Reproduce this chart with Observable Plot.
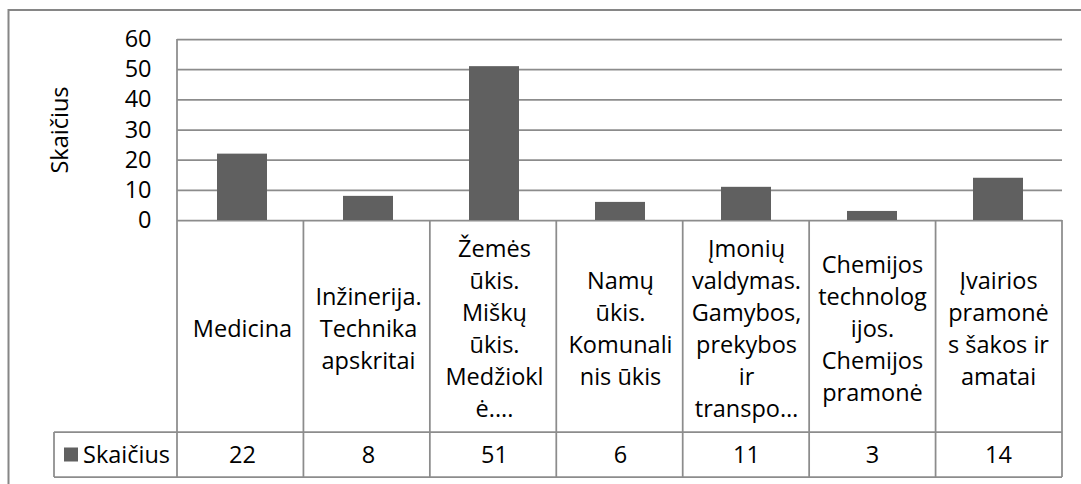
<!DOCTYPE html>
<html>
<head>
<meta charset="utf-8">
<script src="https://cdn.jsdelivr.net/npm/d3@7"></script>
<script src="https://cdn.jsdelivr.net/npm/@observablehq/plot@0.6"></script>
<style>
  html, body { margin: 0; padding: 0; background: #fff; }
  svg { display: block; }
</style>
</head>
<body>
<div id="chart"></div>
<script>
// ---- data ----
const categoryLabels = [
  "Medicina",
  "Inžinerija.\nTechnika\napskritai",
  "Žemės\nūkis.\nMiškų\nūkis.\nMedžiokl\nė....",
  "Namų\nūkis.\nKomunali\nnis ūkis",
  "Įmonių\nvaldymas.\nGamybos,\nprekybos\nir\ntranspo…",
  "Chemijos\ntechnolog\nijos.\nChemijos\npramonė",
  "Įvairios\npramonė\ns šakos ir\namatai"
];
const values = [22, 8, 51, 6, 11, 3, 14];
const seriesName = "Skaičius";
const axisTitle = "Skaičius";
const yTicks = [0, 10, 20, 30, 40, 50, 60];

const data = categoryLabels.map((c, i) => ({category: c, value: values[i]}));

// ---- layout ----
const W = 1081, H = 484;
const mL = 177, mR = 19, mT = 39, mB = 264;
const zeroY = H - mB;        // 220
const rowSplitY = 432;       // between label row and value row
const tableBottom = 477;
const legendLeft = 54;
const FONT = "'Open Sans', Lato, sans-serif";
const FS = 23.5;
const gridColor = "#8c8c8c";
const barColor = "#606060";

const chart = Plot.plot({
  width: W,
  height: H,
  marginLeft: mL,
  marginRight: mR,
  marginTop: mT,
  marginBottom: mB,
  style: {fontFamily: FONT, fontSize: FS + "px", color: "#000", background: "#fff", overflow: "visible"},
  x: {domain: categoryLabels, paddingInner: 0.605, paddingOuter: 0.3025, axis: null},
  y: {domain: [0, 60], axis: null},
  marks: [
    Plot.gridY(yTicks, {stroke: gridColor, strokeOpacity: 1, strokeWidth: 1.75}),
    Plot.barY(data, {x: "category", y: "value", fill: barColor}),
    Plot.axisY(yTicks, {tickSize: 0, tickPadding: 26, fontSize: FS, label: null, fill: "#000"}),
    Plot.text([axisTitle], {frameAnchor: "left", textAnchor: "middle", lineAnchor: "middle",
      dx: -117, rotate: -90, fontSize: FS, fill: "#000"}),
    Plot.text(data, {x: "category", text: "category", frameAnchor: "bottom",
      dy: (rowSplitY - zeroY) / 2, lineAnchor: "middle", lineHeight: 1.36, fontSize: FS, fill: "#000"}),
    Plot.text(data, {x: "category", text: d => String(d.value), frameAnchor: "bottom",
      dy: (rowSplitY + tableBottom) / 2 - zeroY, lineAnchor: "middle", fontSize: FS, fill: "#000"})
  ]
});

document.getElementById("chart").appendChild(chart);

// ---- data table grid & legend (decoration aligned to Plot's x scale) ----
const svg = d3.select(chart);
const xs = chart.scale("x");
const r0 = xs.range[0], r1 = xs.range[1];
const n = categoryLabels.length;
const step = (r1 - r0) / n;
const bounds = d3.range(n + 1).map(i => r0 + i * step);

const g = svg.append("g").attr("stroke", gridColor).attr("stroke-width", 1.75).attr("fill", "none");
// outer chart border (clipped by the picture on the right and bottom)
g.append("rect").attr("x", 8.5).attr("y", 10).attr("width", W + 20).attr("height", H + 20)
  .attr("stroke", "#868686").attr("stroke-width", 2);
// left axis line
g.append("line").attr("x1", r0).attr("x2", r0).attr("y1", mT).attr("y2", tableBottom);
// column separators
bounds.slice(1).forEach(b => {
  g.append("line").attr("x1", b).attr("x2", b).attr("y1", zeroY).attr("y2", tableBottom);
});
// horizontal table lines
[rowSplitY, tableBottom].forEach(y => {
  g.append("line").attr("x1", legendLeft).attr("x2", r1).attr("y1", y).attr("y2", y);
});
// legend cell left border
g.append("line").attr("x1", legendLeft).attr("x2", legendLeft).attr("y1", rowSplitY).attr("y2", tableBottom);

// legend key
const midRow = (rowSplitY + tableBottom) / 2;
svg.append("rect").attr("x", 64).attr("y", midRow - 7).attr("width", 14).attr("height", 14).attr("fill", barColor);
svg.append("text").attr("x", 83).attr("y", midRow).attr("dy", "0.35em")
  .attr("text-anchor", "start")
  .attr("font-family", FONT).attr("font-size", FS).attr("fill", "#000").text(seriesName);
</script>
</body>
</html>
